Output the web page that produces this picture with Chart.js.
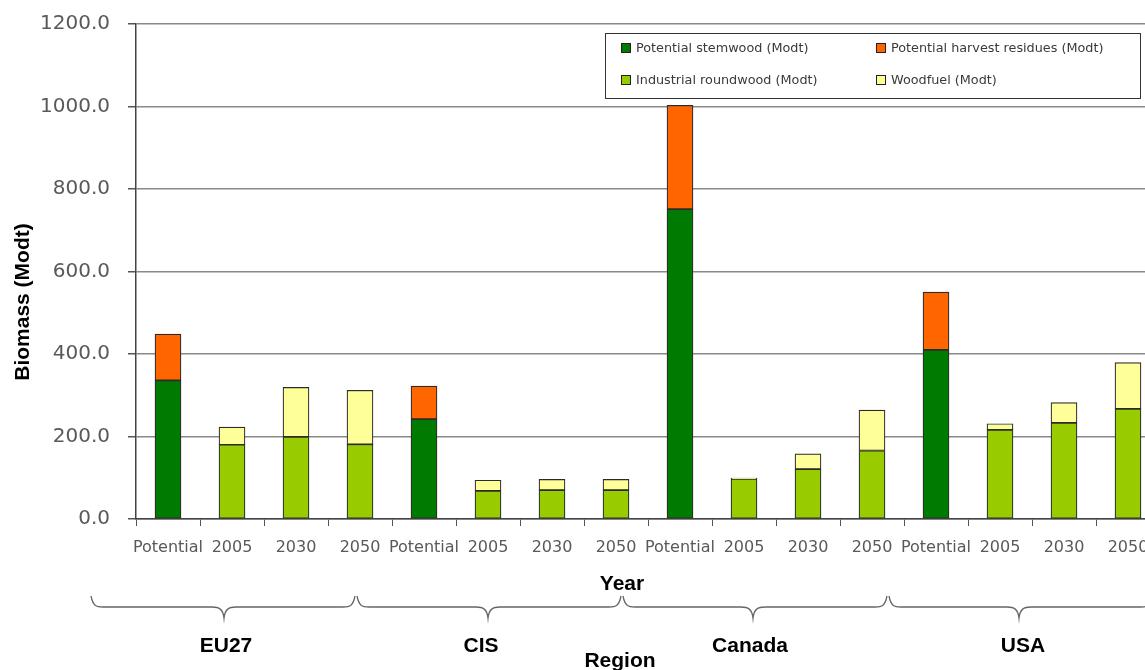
<!DOCTYPE html>
<html>
<head>
<meta charset="utf-8">
<script src="https://cdn.jsdelivr.net/npm/chart.js@4.4.1/dist/chart.umd.min.js"></script>
<style>
  html, body { margin: 0; padding: 0; background: #fff; overflow: hidden; }
  #wrap { width: 1145px; height: 670px; overflow: hidden; }
</style>
</head>
<body>
<div id="wrap"><canvas id="biomassChart" width="1165" height="670"></canvas></div>
<script>
'use strict';

// ── Data ─────────────────────────────────────────────────────────────
const categories = [
  'Potential', '2005', '2030', '2050',
  'Potential', '2005', '2030', '2050',
  'Potential', '2005', '2030', '2050',
  'Potential', '2005', '2030', '2050',
];
const regions = ['EU27', 'CIS', 'Canada', 'USA'];

const stemwood  = [336, null, null, null, 242, null, null, null, 751, null, null, null, 410, null, null, null];
const residues  = [112, null, null, null,  80, null, null, null, 252, null, null, null, 140, null, null, null];
const roundwood = [null, 180, 199, 181, null, 68, 70, 70, null, 97, 121, 166, null, 216, 233, 267];
const woodfuel  = [null,  43, 120, 131, null, 26, 26, 26, null,  2,  37,  98, null,  15,  49, 112];

const yTicks = [0, 200, 400, 600, 800, 1000, 1200];

// ── Styles ───────────────────────────────────────────────────────────
const TEXT_GREY = '#595959';
const BOLD_FONT = 'bold 21px "Liberation Sans", Arial, sans-serif';

const series = [
  { label: 'Potential stemwood (Modt)',        data: stemwood,  color: '#007a00' },
  { label: 'Potential harvest residues (Modt)', data: residues,  color: '#ff6600' },
  { label: 'Industrial roundwood (Modt)',      data: roundwood, color: '#99cc00' },
  { label: 'Woodfuel (Modt)',                  data: woodfuel,  color: '#ffff99' },
];

// brace layout (pixels) for the region annotation under the axis
const braceEdges  = [90, 356, 622, 888, 1154];
const braceCusps  = [224, 488, 753, 1019];
const regionTextX = [226, 481, 750, 1023];

// ── Annotations: legend box, axis titles, region braces ─────────────
const annotations = {
  id: 'annotations',
  afterDatasetsDraw(chart) {
    const { ctx } = chart;
    ctx.save();

    // legend box inside the plot, two columns
    const box = { x: 605, y: 33, w: 535, h: 65 };
    ctx.fillStyle = '#fff';
    ctx.fillRect(box.x, box.y, box.w, box.h);
    ctx.strokeStyle = '#333';
    ctx.lineWidth = 1;
    ctx.strokeRect(box.x + 0.5, box.y + 0.5, box.w, box.h);
    ctx.font = '12.8px "DejaVu Sans", sans-serif';
    ctx.textBaseline = 'middle';
    ctx.textAlign = 'left';
    chart.data.datasets.forEach((ds, i) => {
      const col = i % 2, row = Math.floor(i / 2);
      const mx = 621 + col * 255;
      const my = 48 + row * 32;
      ctx.fillStyle = ds.backgroundColor;
      ctx.fillRect(mx, my - 5, 10, 10);
      ctx.strokeStyle = '#222';
      ctx.strokeRect(mx + 0.5, my - 4.5, 9, 9);
      ctx.fillStyle = '#3a3a3a';
      ctx.fillText(ds.label, mx + 15, my + 1);
    });

    // y axis title
    ctx.fillStyle = '#000';
    ctx.font = BOLD_FONT;
    ctx.textAlign = 'center';
    ctx.save();
    ctx.translate(23, 302);
    ctx.rotate(-Math.PI / 2);
    ctx.fillText('Biomass (Modt)', 0, 0);
    ctx.restore();

    // x axis titles
    ctx.fillText('Year', 622, 584);
    ctx.fillText('Region', 620, 661);

    // braces with region labels
    ctx.strokeStyle = '#666';
    ctx.lineWidth = 1.3;
    const top = 596, mid = 607, tip = 618, r = 12;
    regions.forEach((name, i) => {
      const x0 = braceEdges[i] + 1;
      const x1 = braceEdges[i + 1] - 1;
      const cx = braceCusps[i];
      ctx.beginPath();
      ctx.moveTo(x0, top);
      ctx.bezierCurveTo(x0 + 2, mid - 1, x0 + 5, mid, x0 + r, mid);
      ctx.lineTo(cx - r, mid);
      ctx.bezierCurveTo(cx - 5, mid, cx - 1, mid + 2, cx, tip);
      ctx.bezierCurveTo(cx + 1, mid + 2, cx + 5, mid, cx + r, mid);
      ctx.lineTo(x1 - r, mid);
      ctx.bezierCurveTo(x1 - 5, mid, x1 - 2, mid - 1, x1, top);
      ctx.stroke();
      ctx.fillStyle = '#000';
      ctx.fillText(name, regionTextX[i], 646);
    });

    ctx.restore();
  },
};

// ── Chart ────────────────────────────────────────────────────────────
const ctx = document.getElementById('biomassChart').getContext('2d');
new Chart(ctx, {
  type: 'bar',
  data: {
    labels: categories,
    datasets: series.map(s => ({
      label: s.label,
      data: s.data,
      backgroundColor: s.color,
      borderColor: '#2b2b2b',
      borderWidth: 1.2,
      borderSkipped: false,
      barThickness: 26,
    })),
  },
  options: {
    responsive: false,
    animation: false,
    layout: { padding: { top: 24, right: 5, left: 0, bottom: 0 } },
    plugins: {
      legend: { display: false },
      tooltip: { enabled: false },
    },
    scales: {
      x: {
        stacked: true,
        afterFit: scale => {
          scale.height = 151;
          scale.paddingLeft = 0;
          scale.paddingRight = 0;
        },
        grid: {
          offset: true,
          drawOnChartArea: false,
          drawTicks: true,
          tickLength: 7,
          color: '#555',
        },
        border: { color: '#444', width: 1.5 },
        ticks: {
          autoSkip: false,
          maxRotation: 0,
          minRotation: 0,
          padding: 12,
          color: TEXT_GREY,
          font: { family: '"DejaVu Sans", sans-serif', size: 16 },
        },
      },
      y: {
        stacked: true,
        min: yTicks[0],
        max: yTicks[yTicks.length - 1],
        afterFit: scale => {
          scale.width = 136;
          scale.paddingTop = 0;
          scale.paddingBottom = 0;
        },
        afterBuildTicks: scale => { scale.ticks = yTicks.map(v => ({ value: v })); },
        grid: {
          color: '#8a8a8a',
          lineWidth: 1.5,
          tickLength: 8,
          tickColor: '#555',
        },
        border: { color: '#444', width: 1.5 },
        ticks: {
          padding: 18,
          color: TEXT_GREY,
          font: { family: '"DejaVu Sans", sans-serif', size: 20 },
          callback: v => v.toFixed(1),
        },
      },
    },
  },
  plugins: [annotations],
});
</script>
</body>
</html>
